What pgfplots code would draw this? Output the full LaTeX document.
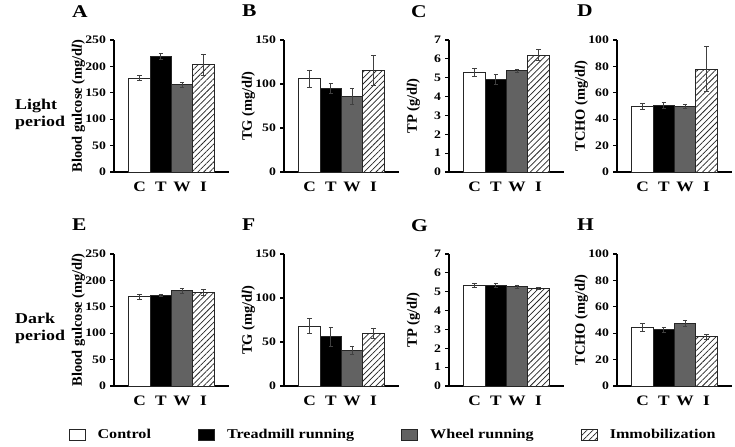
\documentclass[border=0pt]{standalone}
\usepackage{pgfplots}
\pgfplotsset{compat=1.18}
\usetikzlibrary{patterns.meta}
\usepackage{fontspec}
\setmainfont{Liberation Serif}[FakeStretch=1.2]
\newfontfamily\rotfont{Liberation Serif}
\definecolor{wgray}{HTML}{626262}
\pgfplotsset{
  panel/.style={
    scale only axis, width=115bp, height=132bp,
    axis x line=bottom, axis y line=left,
    axis line style={line width=1.5bp, -},
    xmin=-1.2, xmax=4.2, ymin=0,
    xtick={0,1,2,3}, xticklabels={C,T,W,I},
    x tick style={draw=none},
    y tick style={line width=1.2bp, black},
    tick align=outside, major tick length=4bp,
    /pgf/number format/assume math mode=true,
    xticklabel style={font=\fontsize{14.5}{16}\selectfont\bfseries, yshift=-2.5bp},
    yticklabel style={font=\fontsize{11.5}{13}\selectfont\bfseries, xshift=-0.5bp},
    ylabel style={font=\rotfont\fontsize{14.5}{16}\selectfont\bfseries, at={(axis description cs:-0.31,0.5)}, anchor=center, rotate=0},
    clip=false,
    legend image code/.code={\draw[##1, line width=1bp] (0bp,-5.5bp) rectangle (16bp,5.5bp);},
  },
  cbar/.style={ybar, bar width=1, bar shift=0pt, draw=black!85, line width=1bp,
    error bars/y dir=both, error bars/y explicit,
    error bars/error bar style={line width=0.8bp, black!75},
    error bars/error mark options={rotate=90, mark size=2.3bp, line width=0.8bp, black!75}},
  sC/.style={cbar, fill=white},
  sT/.style={cbar, fill=black},
  sW/.style={cbar, fill=wgray},
  sI/.style={cbar, fill=white, postaction={pattern={Lines[angle=45, distance=4.2bp, line width=0.75bp]}, pattern color=black!85}},
}
\begin{document}
\begin{tikzpicture}
\useasboundingbox (0,0) rectangle (735bp,-447bp);
% panel letters and row labels
\tikzset{plet/.style={anchor=north west, inner sep=0pt, font=\fontsize{18}{20}\selectfont\bfseries}}
\node[plet] at (72bp,-5bp) {A};
\node[plet] at (242bp,-5bp) {B};
\node[plet] at (411bp,-5bp) {C};
\node[plet] at (577bp,-5bp) {D};
\node[plet] at (72bp,-219bp) {E};
\node[plet] at (242bp,-219bp) {F};
\node[plet] at (411bp,-219bp) {G};
\node[plet] at (577bp,-219bp) {H};
\node[anchor=west, inner sep=0pt, align=left, font=\fontsize{15}{17}\selectfont\bfseries] at (15bp,-114bp) {Light\\period};
\node[anchor=west, inner sep=0pt, align=left, font=\fontsize{15}{17}\selectfont\bfseries] at (15bp,-328bp) {Dark\\period};

% A
\begin{axis}[panel, at={(114bp,-172bp)}, anchor=south west, ymax=250, ytick={0,50,100,150,200,250}, ylabel={Blood gulcose (mg/d\textit{l})}]
\addplot[sC] coordinates {(0,178) +- (0,4.5)};
\addplot[sT] coordinates {(1,219) +- (0,5)};
\addplot[sW] coordinates {(2,165) +- (0,5)};
\addplot[sI] coordinates {(3,203) +- (0,20)};
\end{axis}
% B
\begin{axis}[panel, at={(284bp,-172bp)}, anchor=south west, ymax=150, ytick={0,50,100,150}, ylabel={TG (mg/d\textit{l})}]
\addplot[sC] coordinates {(0,106) +- (0,10)};
\addplot[sT] coordinates {(1,95) +- (0,6)};
\addplot[sW] coordinates {(2,86) +- (0,9)};
\addplot[sI] coordinates {(3,115) +- (0,17)};
\end{axis}
% C
\begin{axis}[panel, at={(449bp,-172bp)}, anchor=south west, ymax=7, ytick={0,1,2,3,4,5,6,7}, ylabel={TP (g/d\textit{l})}]
\addplot[sC] coordinates {(0,5.28) +- (0,0.2)};
\addplot[sT] coordinates {(1,4.92) +- (0,0.28)};
\addplot[sW] coordinates {(2,5.38) +- (0,0.08)};
\addplot[sI] coordinates {(3,6.2) +- (0,0.28)};
\end{axis}
% D
\begin{axis}[panel, at={(617bp,-172bp)}, anchor=south west, ymax=100, ytick={0,20,40,60,80,100}, ylabel={TCHO (mg/d\textit{l})}]
\addplot[sC] coordinates {(0,49.6) +- (0,2)};
\addplot[sT] coordinates {(1,50.4) +- (0,2.5)};
\addplot[sW] coordinates {(2,49.6) +- (0,1.3)};
\addplot[sI] coordinates {(3,78) +- (0,17)};
\end{axis}
% E
\begin{axis}[panel, at={(114bp,-386bp)}, anchor=south west, ymax=250, ytick={0,50,100,150,200,250}, ylabel={Blood gulcose (mg/d\textit{l})},
  legend columns=4,
  legend style={at={(axis description cs:-0.397,-0.368)}, anchor=west, draw=none, fill=none, inner sep=0pt,
    font=\fontsize{13.5}{15}\selectfont\bfseries,
    /tikz/every odd column/.append style={column sep=10bp},
    /tikz/every even column/.append style={column sep=45bp}}]
\addplot[sC] coordinates {(0,169) +- (0,5)};
\addplot[sT] coordinates {(1,172) +- (0,2)};
\addplot[sW] coordinates {(2,180) +- (0,4.5)};
\addplot[sI] coordinates {(3,177) +- (0,5.5)};
\legend{Control, Treadmill running, Wheel running, Immobilization}
\end{axis}
% F
\begin{axis}[panel, at={(284bp,-386bp)}, anchor=south west, ymax=150, ytick={0,50,100,150}, ylabel={TG (mg/d\textit{l})}]
\addplot[sC] coordinates {(0,68) +- (0,8.5)};
\addplot[sT] coordinates {(1,56) +- (0,11)};
\addplot[sW] coordinates {(2,40.5) +- (0,5)};
\addplot[sI] coordinates {(3,60) +- (0,6)};
\end{axis}
% G
\begin{axis}[panel, at={(449bp,-386bp)}, anchor=south west, ymax=7, ytick={0,1,2,3,4,5,6,7}, ylabel={TP (g/d\textit{l})}]
\addplot[sC] coordinates {(0,5.32) +- (0,0.1)};
\addplot[sT] coordinates {(1,5.34) +- (0,0.12)};
\addplot[sW] coordinates {(2,5.26) +- (0,0.1)};
\addplot[sI] coordinates {(3,5.18) +- (0,0.05)};
\end{axis}
% H
\begin{axis}[panel, at={(617bp,-386bp)}, anchor=south west, ymax=100, ytick={0,20,40,60,80,100}, ylabel={TCHO (mg/d\textit{l})}]
\addplot[sC] coordinates {(0,44.5) +- (0,3)};
\addplot[sT] coordinates {(1,42.7) +- (0,1.8)};
\addplot[sW] coordinates {(2,47.5) +- (0,2)};
\addplot[sI] coordinates {(3,37.2) +- (0,2)};
\end{axis}
\end{tikzpicture}
\end{document}
